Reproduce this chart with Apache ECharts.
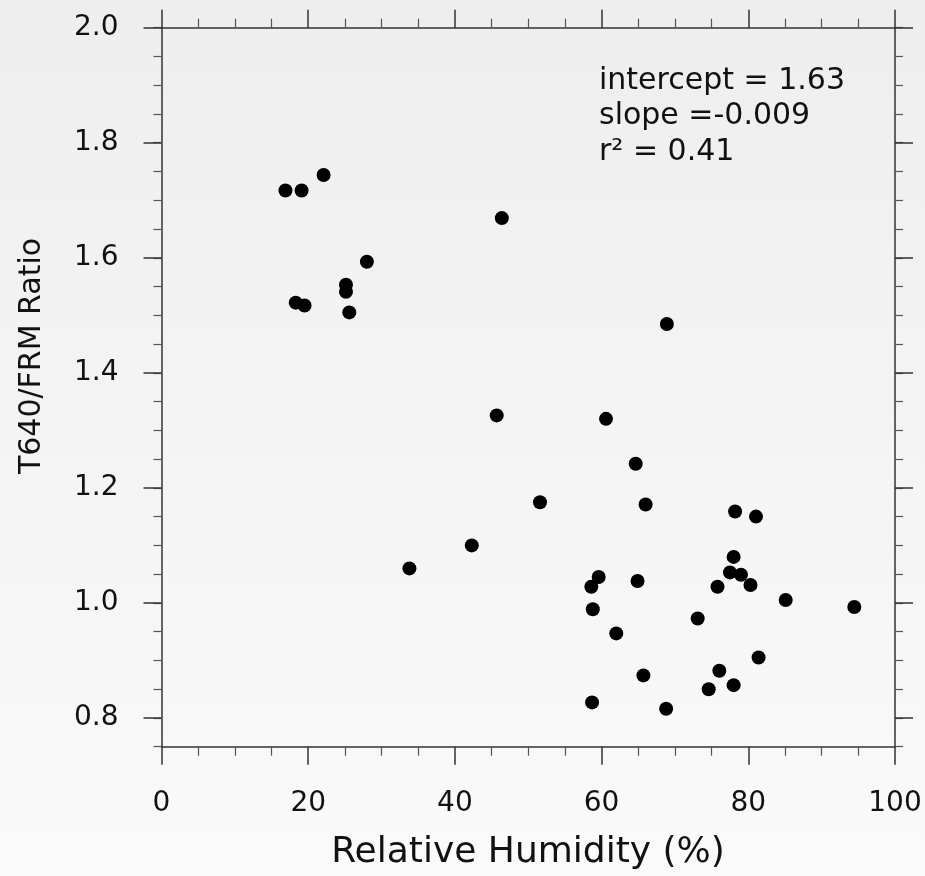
<!DOCTYPE html>
<html>
<head>
<meta charset="utf-8">
<script src="https://cdn.jsdelivr.net/npm/echarts@6/dist/echarts.min.js"></script>
<style>
html,body{margin:0;padding:0;background:#f4f4f4;}
#c{width:925px;height:876px;}
</style>
</head>
<body>
<div id="c"></div>
<script>
// Relative humidity (%)
const rh = [16.9, 19.1, 22.1, 18.3, 19.5, 25.15, 25.15, 28.0, 25.6, 46.4,
            68.9, 45.7, 60.6, 64.65, 51.6, 66.0, 78.2, 81.05, 42.3, 33.8,
            78.0, 77.5, 79.0, 59.6, 58.6, 64.9, 75.8, 80.3, 85.1, 94.45,
            58.8, 73.1, 62.0, 81.4, 76.05, 65.7, 78.0, 74.6, 58.7, 68.8];
// T640/FRM ratio
const ratio = [1.717, 1.717, 1.744, 1.522, 1.517, 1.553, 1.541, 1.593, 1.505, 1.669,
               1.485, 1.326, 1.320, 1.242, 1.175, 1.171, 1.159, 1.150, 1.100, 1.060,
               1.080, 1.053, 1.049, 1.045, 1.028, 1.038, 1.028, 1.031, 1.005, 0.993,
               0.989, 0.973, 0.947, 0.905, 0.882, 0.874, 0.857, 0.850, 0.827, 0.816];
const xTicks = [0, 20, 40, 60, 80, 100];
const yTicks = ['0.8', '1.0', '1.2', '1.4', '1.6', '1.8', '2.0'];
const annotation = ['intercept = 1.63', 'slope =-0.009', 'r\u00B2 = 0.41'];
const xTitle = 'Relative Humidity (%)';
const yTitle = 'T640/FRM Ratio';

const FONT = 'DejaVu Sans';
const AX = '#333';
const TXT = '#111';

const chart = echarts.init(document.getElementById('c'), null, {renderer: 'canvas'});

const points = rh.map((x, i) => [x, ratio[i]]);

function xAxisCfg(pos, showLabel) {
  return {
    type: 'value', gridIndex: 0, position: pos,
    min: xTicks[0], max: xTicks[xTicks.length - 1], interval: xTicks[1] - xTicks[0],
    axisLine: {show: true, onZero: false, lineStyle: {color: AX, width: 1.5}},
    axisTick: {show: true, inside: false, length: 18, lineStyle: {color: AX, width: 1.5}},
    minorTick: {show: true, splitNumber: 4, length: 9, lineStyle: {color: '#555', width: 1.2}},
    splitLine: {show: false}, minorSplitLine: {show: false},
    axisLabel: {show: showLabel, margin: 43, fontFamily: FONT, fontSize: 28, color: TXT}
  };
}
function yMinorCfg(pos) {
  return {
    type: 'value', gridIndex: 0, position: pos,
    min: 0.75, max: 2.0, interval: 0.05,
    axisLine: {show: true, onZero: false, lineStyle: {color: AX, width: 1.5}},
    axisTick: {show: true, inside: false, length: 8, lineStyle: {color: '#555', width: 1.2}},
    splitLine: {show: false},
    axisLabel: {show: false}
  };
}
function yMajorCfg(pos, showLabel) {
  return {
    type: 'value', gridIndex: 1, position: pos,
    min: parseFloat(yTicks[0]), max: parseFloat(yTicks[yTicks.length - 1]), interval: 0.2,
    axisLine: {show: false},
    axisTick: {show: true, inside: false, length: 18, lineStyle: {color: AX, width: 1.5}},
    splitLine: {show: false},
    axisLabel: {show: showLabel, margin: 43, fontFamily: FONT, fontSize: 28, color: TXT,
      formatter: v => v.toFixed(1)}
  };
}

const option = {
  backgroundColor: {
    type: 'linear', x: 0, y: 0, x2: 0, y2: 1,
    colorStops: [{offset: 0, color: '#eeeeee'}, {offset: 1, color: '#fafafa'}]
  },
  animation: false,
  grid: [
    {left: 161.5, right: 30, top: 27.7, bottom: 129.3},
    {left: 161.5, right: 30, top: 27.7, bottom: 158}
  ],
  xAxis: [
    xAxisCfg('bottom', true),
    xAxisCfg('top', false),
    {type: 'value', gridIndex: 1, show: false, min: 0, max: 100}
  ],
  yAxis: [
    yMinorCfg('left'),
    yMinorCfg('right'),
    yMajorCfg('left', true),
    yMajorCfg('right', false)
  ],
  series: [
    {
      type: 'scatter', xAxisIndex: 0, yAxisIndex: 0,
      data: points, symbol: 'circle', symbolSize: 14,
      itemStyle: {color: '#000', opacity: 1}, silent: true
    },
    {type: 'scatter', xAxisIndex: 2, yAxisIndex: 2, data: [], silent: true}
  ],
  graphic: [
    {type: 'text', x: 528, y: 853, style: {text: xTitle, fontFamily: FONT, fontSize: 36,
      fill: TXT, textAlign: 'center', textVerticalAlign: 'middle'}},
    {type: 'text', x: 32, y: 356, rotation: Math.PI / 2, style: {text: yTitle, fontFamily: FONT,
      fontSize: 30, fill: TXT, textAlign: 'center', textVerticalAlign: 'middle'}},
    {type: 'text', x: 599, y: 81, style: {text: annotation[0], fontFamily: FONT, fontSize: 30,
      fill: TXT, textAlign: 'left', textVerticalAlign: 'middle'}},
    {type: 'text', x: 599, y: 116, style: {text: annotation[1], fontFamily: FONT, fontSize: 30,
      fill: TXT, textAlign: 'left', textVerticalAlign: 'middle'}},
    {type: 'text', x: 599, y: 152, style: {text: annotation[2], fontFamily: FONT, fontSize: 30,
      fill: TXT, textAlign: 'left', textVerticalAlign: 'middle'}}
  ]
};
chart.setOption(option);
</script>
</body>
</html>
